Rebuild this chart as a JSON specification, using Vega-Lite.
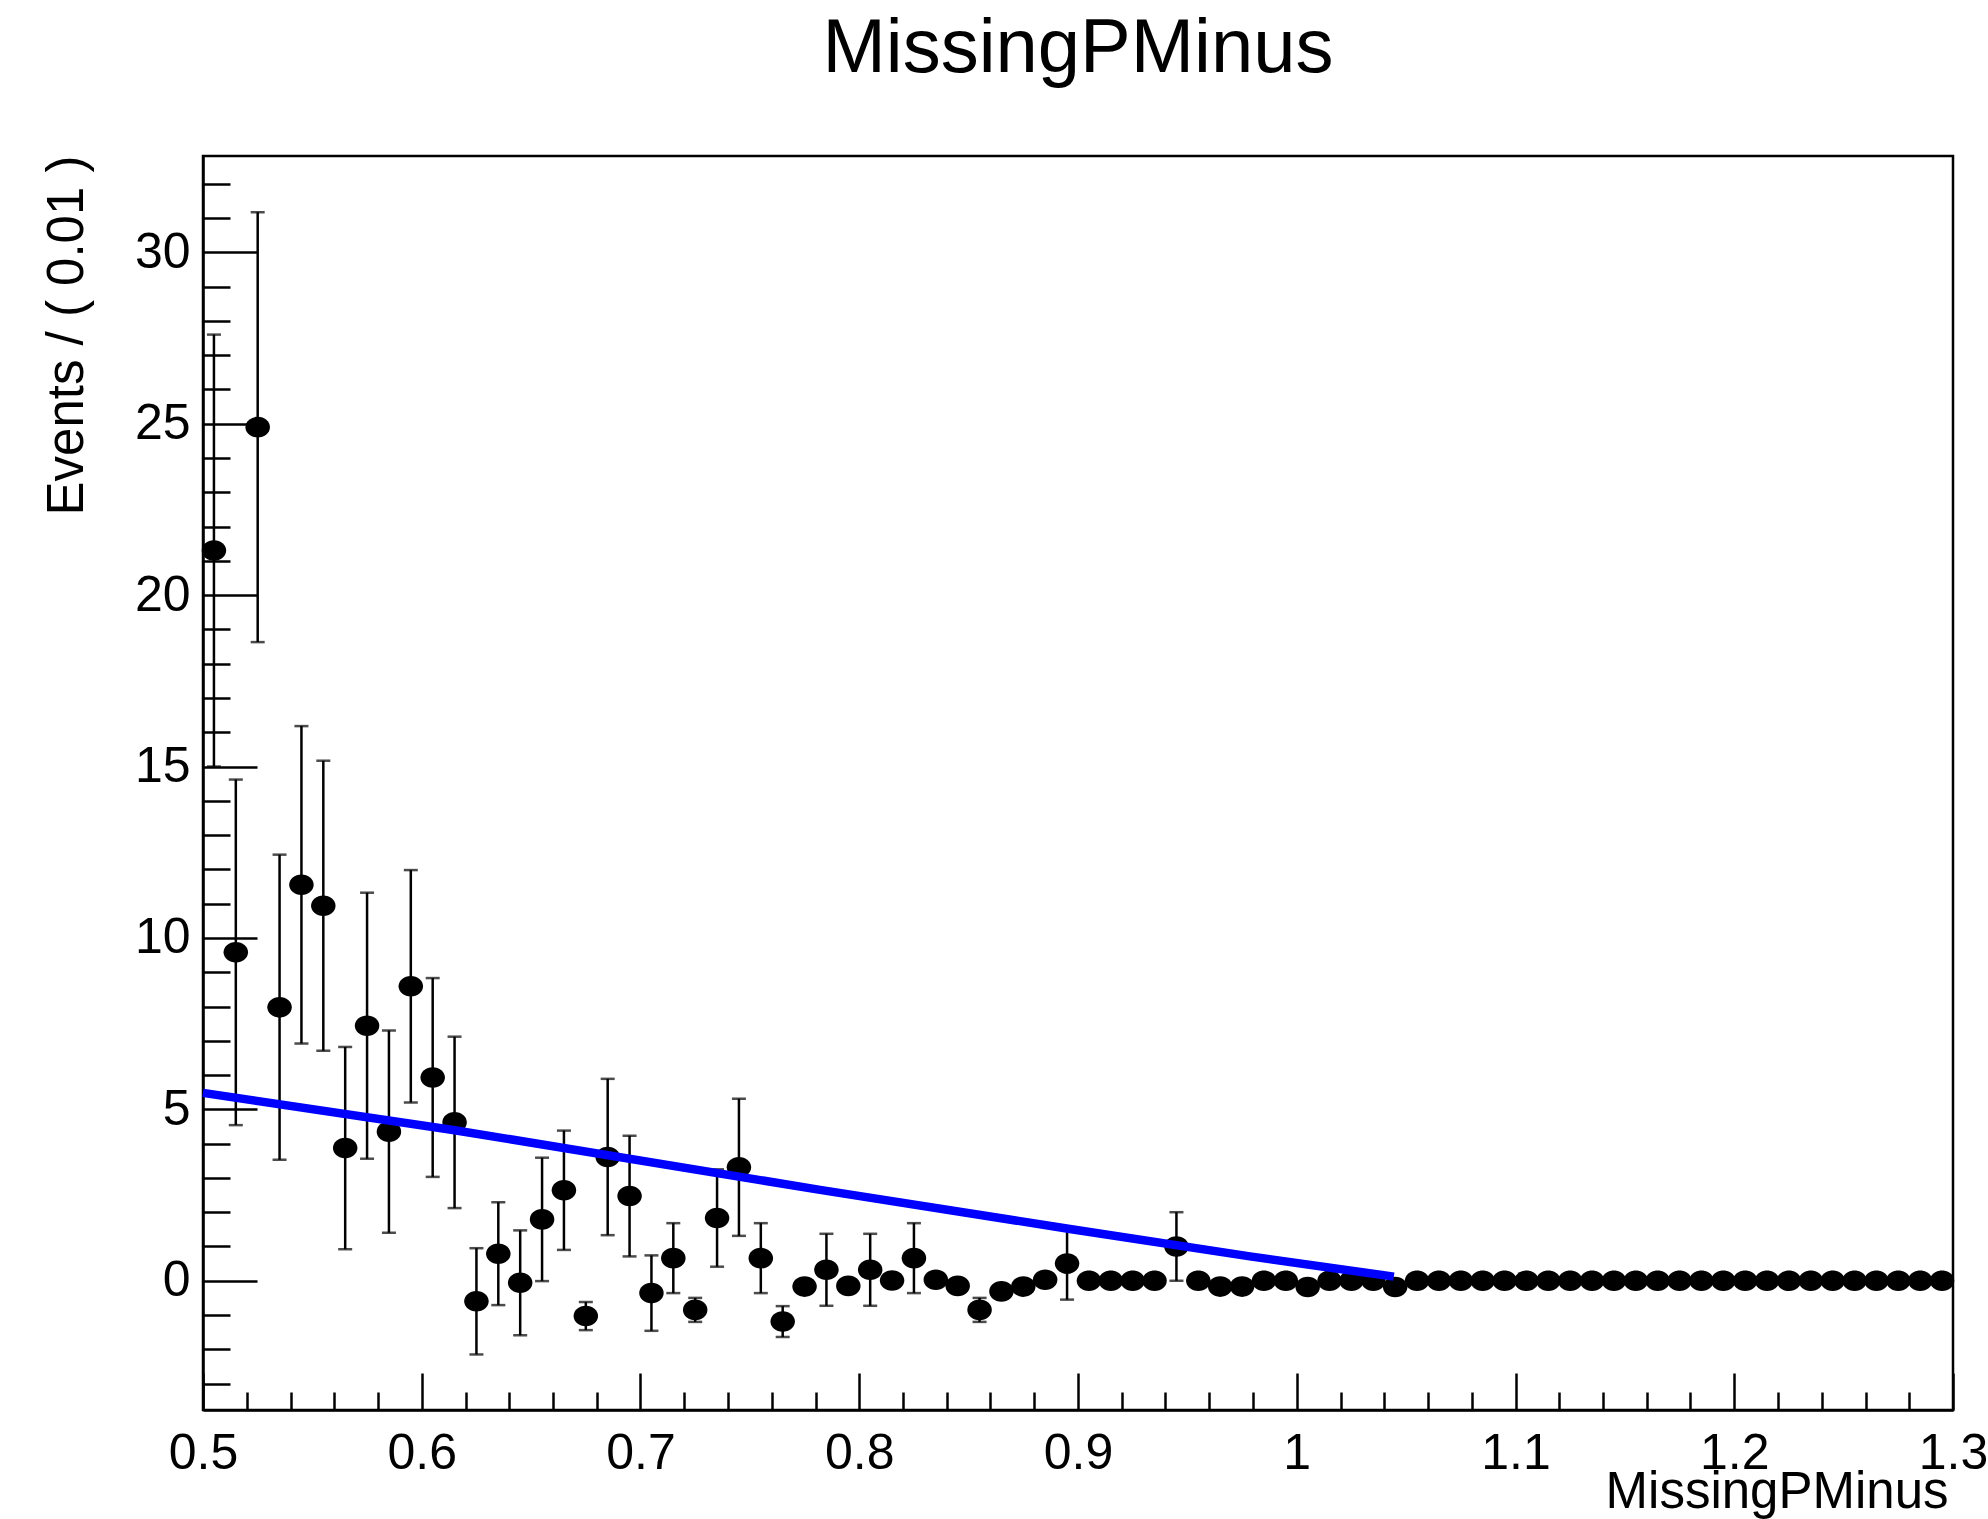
{
  "$schema": "https://vega.github.io/schema/vega-lite/v6.json",
  "width": 1750,
  "height": 1254,
  "autosize": {"type": "none"},
  "padding": {"left": 203, "top": 156, "right": 35, "bottom": 109},
  "background": "white",
  "config": {"font": "Liberation Sans", "view": {"stroke": "black", "strokeWidth": 2.5}},
  "title": {"text": "MissingPMinus", "fontSize": 76, "fontWeight": "normal", "font": "Liberation Sans", "color": "black", "anchor": "middle", "frame": "group", "baseline": "alphabetic", "offset": 7},
  "datasets": {
    "bins": [
      {"x": 0.505, "y": 21.3, "err": 6.3},
      {"x": 0.515, "y": 9.58, "err": 5.04},
      {"x": 0.525, "y": 24.9, "err": 6.27},
      {"x": 0.535, "y": 7.98, "err": 4.45},
      {"x": 0.545, "y": 11.55, "err": 4.63},
      {"x": 0.555, "y": 10.94, "err": 4.23},
      {"x": 0.565, "y": 3.87, "err": 2.95},
      {"x": 0.575, "y": 7.44, "err": 3.88},
      {"x": 0.585, "y": 4.35, "err": 2.95},
      {"x": 0.595, "y": 8.59, "err": 3.39},
      {"x": 0.605, "y": 5.93, "err": 2.9},
      {"x": 0.615, "y": 4.62, "err": 2.5},
      {"x": 0.625, "y": -0.6, "err": 1.55},
      {"x": 0.635, "y": 0.79, "err": 1.5},
      {"x": 0.645, "y": -0.06, "err": 1.53},
      {"x": 0.655, "y": 1.79, "err": 1.8},
      {"x": 0.665, "y": 2.64, "err": 1.74},
      {"x": 0.675, "y": -1.03, "err": 0.41},
      {"x": 0.685, "y": 3.61, "err": 2.28},
      {"x": 0.695, "y": 2.47, "err": 1.76},
      {"x": 0.705, "y": -0.36, "err": 1.1},
      {"x": 0.715, "y": 0.66, "err": 1.02},
      {"x": 0.725, "y": -0.85, "err": 0.35},
      {"x": 0.735, "y": 1.83, "err": 1.42},
      {"x": 0.745, "y": 3.31, "err": 2.0},
      {"x": 0.755, "y": 0.66, "err": 1.02},
      {"x": 0.765, "y": -1.19, "err": 0.45},
      {"x": 0.775, "y": -0.17, "err": 0.17},
      {"x": 0.785, "y": 0.32, "err": 1.05},
      {"x": 0.795, "y": -0.15, "err": 0.17},
      {"x": 0.805, "y": 0.32, "err": 1.05},
      {"x": 0.815, "y": 0.01, "err": 0.1},
      {"x": 0.825, "y": 0.66, "err": 1.02},
      {"x": 0.835, "y": 0.03, "err": 0.1},
      {"x": 0.845, "y": -0.15, "err": 0.17},
      {"x": 0.855, "y": -0.85, "err": 0.35},
      {"x": 0.865, "y": -0.31, "err": 0.2},
      {"x": 0.875, "y": -0.17, "err": 0.17},
      {"x": 0.885, "y": 0.03, "err": 0.1},
      {"x": 0.895, "y": 0.5, "err": 1.05},
      {"x": 0.905, "y": 0, "err": 0},
      {"x": 0.915, "y": 0, "err": 0},
      {"x": 0.925, "y": 0, "err": 0},
      {"x": 0.935, "y": 0, "err": 0},
      {"x": 0.945, "y": 1.0, "err": 1.0},
      {"x": 0.955, "y": 0, "err": 0},
      {"x": 0.965, "y": -0.17, "err": 0.17},
      {"x": 0.975, "y": -0.17, "err": 0.17},
      {"x": 0.985, "y": 0, "err": 0},
      {"x": 0.995, "y": 0, "err": 0},
      {"x": 1.005, "y": -0.18, "err": 0.18},
      {"x": 1.015, "y": 0, "err": 0},
      {"x": 1.025, "y": 0, "err": 0},
      {"x": 1.035, "y": 0, "err": 0},
      {"x": 1.045, "y": -0.18, "err": 0.18},
      {"x": 1.055, "y": 0, "err": 0},
      {"x": 1.065, "y": 0, "err": 0},
      {"x": 1.075, "y": 0, "err": 0},
      {"x": 1.085, "y": 0, "err": 0},
      {"x": 1.095, "y": 0, "err": 0},
      {"x": 1.105, "y": 0, "err": 0},
      {"x": 1.115, "y": 0, "err": 0},
      {"x": 1.125, "y": 0, "err": 0},
      {"x": 1.135, "y": 0, "err": 0},
      {"x": 1.145, "y": 0, "err": 0},
      {"x": 1.155, "y": 0, "err": 0},
      {"x": 1.165, "y": 0, "err": 0},
      {"x": 1.175, "y": 0, "err": 0},
      {"x": 1.185, "y": 0, "err": 0},
      {"x": 1.195, "y": 0, "err": 0},
      {"x": 1.205, "y": 0, "err": 0},
      {"x": 1.215, "y": 0, "err": 0},
      {"x": 1.225, "y": 0, "err": 0},
      {"x": 1.235, "y": 0, "err": 0},
      {"x": 1.245, "y": 0, "err": 0},
      {"x": 1.255, "y": 0, "err": 0},
      {"x": 1.265, "y": 0, "err": 0},
      {"x": 1.275, "y": 0, "err": 0},
      {"x": 1.285, "y": 0, "err": 0},
      {"x": 1.295, "y": 0, "err": 0}
    ],
    "fit": [
      {"x": 0.5, "y": 5.48},
      {"x": 0.6143, "y": 4.4},
      {"x": 0.7821, "y": 2.65},
      {"x": 0.8963, "y": 1.51},
      {"x": 0.9786, "y": 0.71},
      {"x": 1.0444, "y": 0.12}
    ]
  },
  "encoding": {
    "x": {
      "field": "x", "type": "quantitative",
      "scale": {"domain": [0.5, 1.3], "nice": false, "zero": false},
      "axis": {
        "values": [0.5,0.52,0.54,0.56,0.58,0.6,0.62,0.64,0.66,0.68,0.7,0.72,0.74,0.76,0.78,0.8,0.82,0.84,0.86,0.88,0.9,0.92,0.94,0.96,0.98,1.0,1.02,1.04,1.06,1.08,1.1,1.12,1.14,1.16,1.18,1.2,1.22,1.24,1.26,1.28,1.3],
        "labelExpr": "abs(datum.value*10 - round(datum.value*10)) < 0.001 ? format(datum.value, '~g') : ''",
        "tickSize": {"condition": {"test": "abs(datum.value*10 - round(datum.value*10)) < 0.001", "value": -37}, "value": -18},
        "tickWidth": 2.5, "tickColor": "black",
        "domainColor": "black", "domainWidth": 2.5,
        "labelFontSize": 50, "labelColor": "black", "labelPadding": 55,
        "labelFlush": false, "labelOverlap": false, "labelBound": false,
        "grid": false,
        "title": "MissingPMinus", "titleFontSize": 51, "titleFontWeight": "normal", "titleColor": "black",
        "titleAnchor": "end", "titleAlign": "right", "titleX": 1745, "titleY": 97, "titleBaseline": "alphabetic"
      }
    },
    "y": {
      "field": "y", "type": "quantitative",
      "scale": {"domain": [-3.77, 32.81], "nice": false, "zero": false},
      "axis": {
        "values": [-3,-2,-1,0,1,2,3,4,5,6,7,8,9,10,11,12,13,14,15,16,17,18,19,20,21,22,23,24,25,26,27,28,29,30,31,32],
        "labelExpr": "datum.value % 5 === 0 ? format(datum.value, 'd') : ''",
        "tickSize": {"condition": {"test": "datum.value % 5 === 0", "value": -54}, "value": -27},
        "tickWidth": 2.5, "tickColor": "black",
        "domainColor": "black", "domainWidth": 2.5,
        "labelFontSize": 50, "labelColor": "black", "labelPadding": 67,
        "labelOverlap": false, "labelBound": false, "labelFlush": false,
        "grid": false,
        "title": "Events / ( 0.01 )", "titleFontSize": 51, "titleFontWeight": "normal", "titleColor": "black",
        "titleAngle": 270, "titleAnchor": "end", "titleAlign": "right", "titleX": -121, "titleY": -1, "titleBaseline": "alphabetic"
      }
    }
  },
  "layer": [
    {
      "data": {"name": "bins"},
      "mark": {"type": "errorbar", "color": "black", "thickness": 2.5, "ticks": {"size": 14, "thickness": 2.5, "color": "black"}},
      "encoding": {"yError": {"field": "err"}}
    },
    {
      "data": {"name": "bins"},
      "mark": {"type": "point", "filled": true, "shape": "M -1 0 A 1 0.84 0 1 0 1 0 A 1 0.84 0 1 0 -1 0 Z", "size": 600, "color": "black", "opacity": 1, "strokeWidth": 0}
    },
    {
      "data": {"name": "fit"},
      "mark": {"type": "line", "color": "#0000ff", "strokeWidth": 8.5},
      "encoding": {}
    }
  ]
}
